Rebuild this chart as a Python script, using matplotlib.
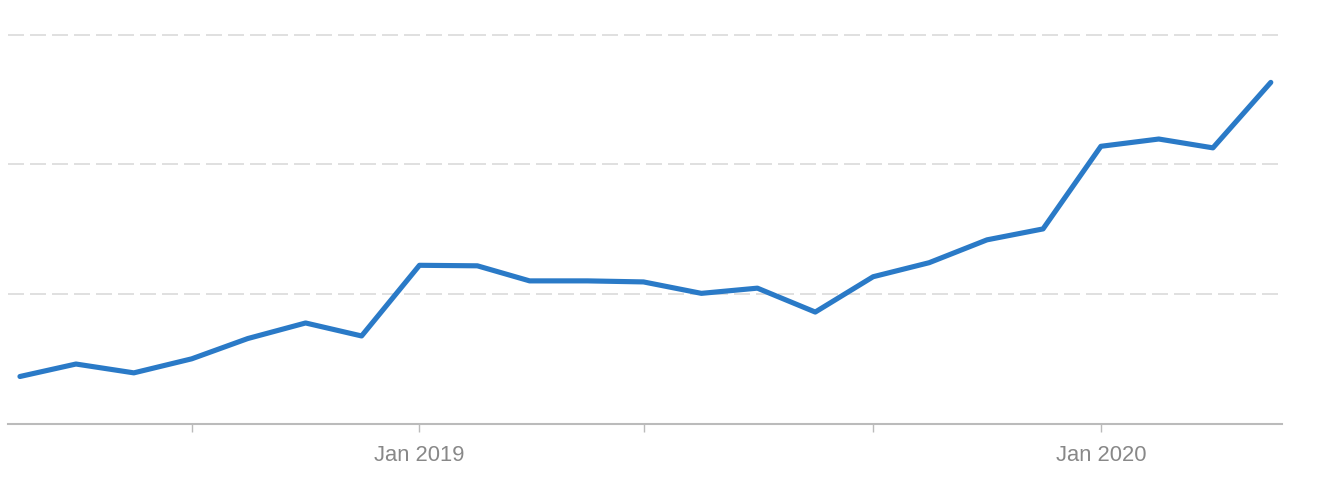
import datetime as dt
import matplotlib
matplotlib.use("Agg")
import matplotlib.pyplot as plt
import matplotlib.dates as mdates

# monthly points, Jun 2018 .. Apr 2020
months = [dt.date(2018 + (5 + i) // 12, (5 + i) % 12 + 1, 1) for i in range(23)]
values = [9.2, 11.6, 9.9, 12.6, 16.5, 19.5, 17.0,
          30.6, 30.5, 27.6, 27.6, 27.4, 25.2, 26.2, 21.6, 28.4, 31.1, 35.5, 37.6,
          53.5, 54.9, 53.2, 65.8]

tick_dates = [dt.date(2018, 9, 1), dt.date(2019, 1, 1), dt.date(2019, 5, 1),
              dt.date(2019, 9, 1), dt.date(2020, 1, 1)]
tick_labels = ["", "Jan 2019", "", "", "Jan 2020"]
grid_vals = [25, 50, 75]

plt.rcParams['font.family'] = ['Liberation Sans', 'DejaVu Sans']

fig = plt.figure(figsize=(13.22, 5), dpi=100)
ax = fig.add_axes([8 / 1322, 0.1514, 1274 / 1322, 0.8314])

for g in grid_vals:
    ax.axhline(g, color="#e0e0e0", lw=1.44, ls=(0, (8, 3)), zorder=1)

ax.plot(months, values, color="#2a7ac7", lw=3.7,
        solid_capstyle="round", solid_joinstyle="round", zorder=3, clip_on=False)

x0 = mdates.date2num(months[0])
x1 = mdates.date2num(months[-1])
ax.set_xlim(x0 - 6.4, x1 + 6.0)
ax.set_ylim(0, 80)

ax.set_xticks([mdates.date2num(d) for d in tick_dates])
ax.set_xticklabels(tick_labels)
ax.set_yticks([])

for s in ["top", "right", "left"]:
    ax.spines[s].set_visible(False)
ax.spines["bottom"].set_color("#bbbbbb")
ax.spines["bottom"].set_linewidth(1.5)
ax.tick_params(axis="x", colors="#bbbbbb", length=6, width=1, pad=9,
               labelsize=15.8, labelcolor="#888888")

fig.savefig("out.png", dpi=100)
